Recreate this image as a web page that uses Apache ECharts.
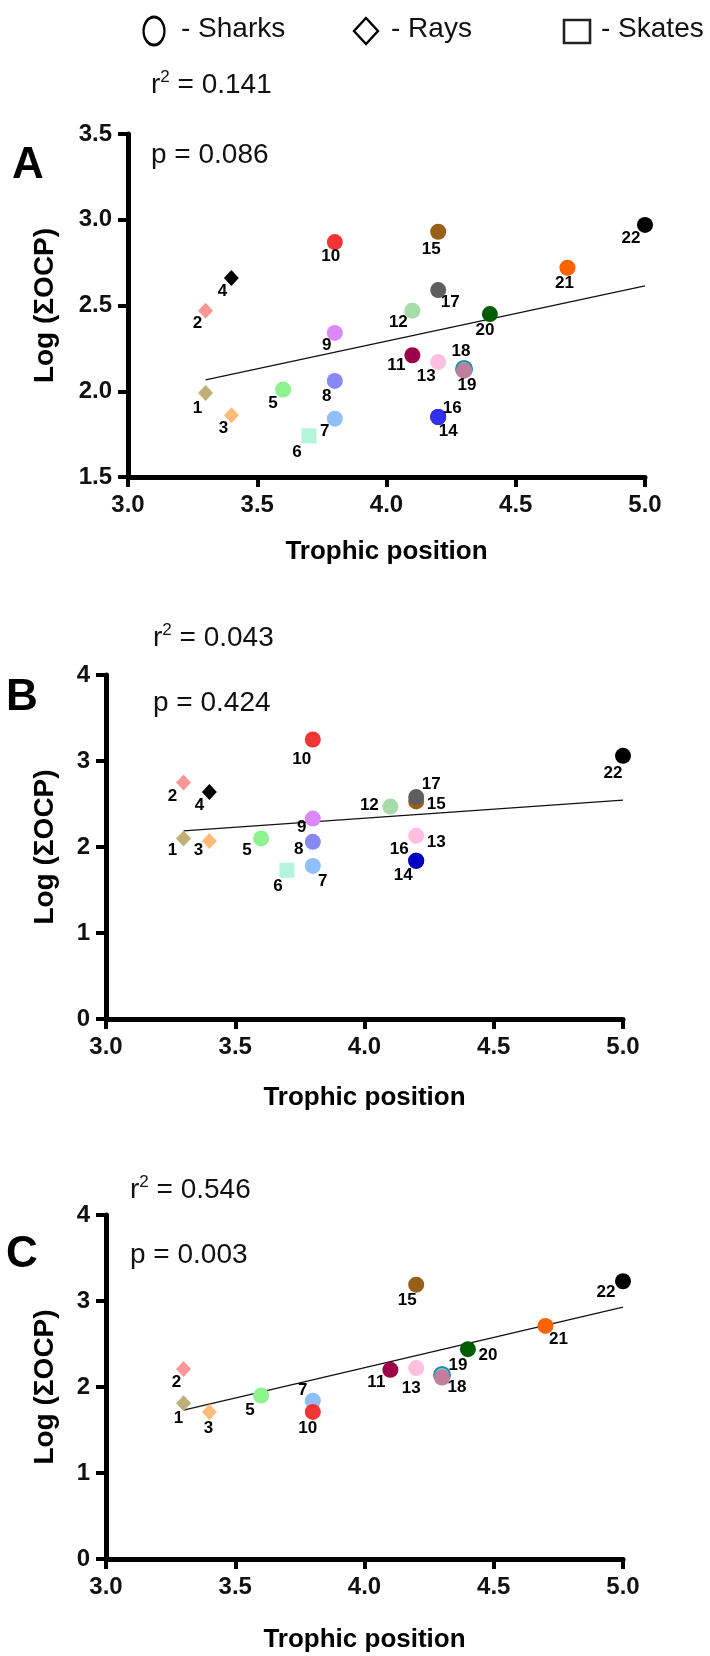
<!DOCTYPE html>
<html><head><meta charset="utf-8">
<script src="https://cdn.jsdelivr.net/npm/echarts@6/dist/echarts.min.js"></script>
<style>html,body{margin:0;padding:0;background:#fff}#c{width:710px;height:1656px}</style>
</head><body><div id="c"></div>
<script>
// ---------- DATA ----------
const xTicks = [3.0, 3.5, 4.0, 4.5, 5.0];
const rays = [1, 2, 3, 4];
const skates = [6];

// Panel A
const aIds = [1,2,3,4,5,6,7,8,9,10,11,12,13,14,15,16,17,18,19,20,21,22];
const aTP  = [3.3,3.3,3.4,3.4,3.6,3.7,3.8,3.8,3.8,3.8,4.1,4.1,4.2,4.2,4.2,4.2,4.2,4.3,4.3,4.4,4.7,5.0];
const aLog = [1.99,2.47,1.86,2.66,2.01,1.74,1.84,2.06,2.34,2.87,2.21,2.47,2.17,1.85,2.93,1.85,2.59,2.13,2.12,2.45,2.72,2.97];
const aFitX = [3.3, 5.0];
const aFitY = [2.066, 2.614];
const aStats = ['0.141', '0.086'];

// Panel B
const bIds = [1,2,3,4,5,6,7,8,9,10,12,13,16,14,15,17,22];
const bTP  = [3.3,3.3,3.4,3.4,3.6,3.7,3.8,3.8,3.8,3.8,4.1,4.2,4.2,4.2,4.2,4.2,5.0];
const bLog = [2.10,2.75,2.07,2.64,2.10,1.73,1.78,2.06,2.33,3.25,2.47,2.13,1.84,1.84,2.53,2.58,3.06];
const bFitX = [3.3, 5.0];
const bFitY = [2.187, 2.545];
const bStats = ['0.043', '0.424'];

// Panel C
const cIds = [1,2,3,5,7,10,11,13,15,18,19,20,21,22];
const cTP  = [3.3,3.3,3.4,3.6,3.8,3.8,4.1,4.2,4.2,4.3,4.3,4.4,4.7,5.0];
const cLog = [1.81,2.21,1.71,1.90,1.84,1.71,2.20,2.22,3.19,2.14,2.11,2.44,2.71,3.23];
const cFitX = [3.3, 5.0];
const cFitY = [1.73, 2.93];
const cStats = ['0.546', '0.003'];

// ---------- STYLE ----------
const colors = {1:'#beb078',2:'#ff9696',3:'#ffbb78',4:'#000000',5:'#8ef28e',6:'#b2f4dc',7:'#8ebff7',8:'#8888f7',
  9:'#dd88f7',10:'#f23434',11:'#9c0048',12:'#a6dca8',13:'#ffbfe0',14:'#0000c4',15:'#966019',16:'#3030ee',
  17:'#5e5e5e',18:'#8cc2cf',19:'#c17d9c',20:'#005c00',21:'#ff6200',22:'#000000'};
const offA = {1:[-8,15],2:[-8,13],3:[-8,13],4:[-9,13],5:[-10,14],6:[-12,16],7:[-10,13],8:[-8,15],9:[-8,12],10:[-4,14],
  11:[-16,10],12:[-14,12],13:[-12,14],14:[10,14],15:[-7,18],16:[14,-9],17:[12,12],18:[-2,-17],19:[3,15],20:[-5,16],21:[-3,16],22:[-14,13]};
const offB = {1:[-11,12],2:[-11,14],3:[-11,9],4:[-10,13],5:[-14,12],6:[-9,16],7:[10,15],8:[-14,7],9:[-11,9],10:[-11,20],
  12:[-21,-1],13:[20,6],14:[-13,15],15:[20,3],16:[-17,-11],17:[15,-13],22:[-10,17]};
const offC = {1:[-5,15],2:[-7,13],3:[-1,16],5:[-11,15],7:[-10,-10],10:[-5,16],11:[-14,13],13:[-5,20],15:[-9,16],
  18:[16,13],19:[16,-12],20:[20,6],21:[13,13],22:[-17,11]};

const FONT = "'Liberation Sans', Arial, Helvetica, sans-serif";
const grids = [
  {left:128, top:134, width:517, height:343},
  {left:106, top:675, width:517, height:344},
  {left:106, top:1215, width:517, height:344}
];

function symbolFor(id){ return rays.includes(id) ? 'diamond' : (skates.includes(id) ? 'rect' : 'circle'); }

function pts(ids, xs, ys, off){
  return ids.map((id,i)=>{
    const sym = symbolFor(id);
    const w = sym==='circle' ? 16 : 15, h = sym==='diamond' ? 16 : w;
    const o = off[id] || [0,14];
    const item = {
      value:[xs[i], ys[i]],
      symbol: sym,
      symbolSize: [w, h],
      itemStyle:{color: colors[id], opacity:1},
      label:{show:true, position:[w/2 + o[0], h/2 + o[1]], align:'center', verticalAlign:'middle',
        formatter:String(id), color:'#000', fontFamily:FONT, fontWeight:'bold', fontSize:17}
    };
    if (id===18) item.itemStyle = {color: colors[id], opacity:1, borderColor:'#1f8fa6', borderWidth:2};
    return item;
  });
}

const xAxisBase = (gi)=>({
  gridIndex:gi, type:'value', min:3, max:5, interval:0.5,
  name:'Trophic position', nameLocation:'middle', nameGap:[62,66,68][gi],
  nameTextStyle:{fontFamily:FONT, fontWeight:'bold', fontSize:26, color:'#000'},
  axisLine:{show:true, onZero:false, lineStyle:{color:'#000', width:5}},
  axisTick:{show:true, length:10, lineStyle:{color:'#000', width:4}},
  axisLabel:{fontFamily:FONT, fontWeight:'bold', fontSize:24, color:'#111', margin:16,
    formatter:(v)=>v.toFixed(1)},
  splitLine:{show:false}
});
const yAxisBase = (gi, min, max, interval, dec)=>({
  gridIndex:gi, type:'value', min:min, max:max, interval:interval,
  name:'Log (ΣOCP)', nameLocation:'middle', nameGap:[69,47,47][gi], nameRotate:90,
  nameTextStyle:{fontFamily:FONT, fontWeight:'bold', fontSize:28, color:'#000'},
  axisLine:{show:true, onZero:false, lineStyle:{color:'#000', width:5}},
  axisTick:{show:true, length:10, lineStyle:{color:'#000', width:4}},
  axisLabel:{fontFamily:FONT, fontWeight:'bold', fontSize:24, color:'#111', margin:16,
    formatter:(v)=>v.toFixed(dec)},
  splitLine:{show:false}
});

function fitLine(gi, fx, fy){
  return {type:'line', xAxisIndex:gi, yAxisIndex:gi, data: fx.map((x,i)=>[x, fy[i]]),
    symbol:'none', lineStyle:{color:'#111', width:1.3}, z:1, silent:true};
}
function scat(gi, ids, xs, ys, off){
  return {type:'scatter', xAxisIndex:gi, yAxisIndex:gi, data: pts(ids, xs, ys, off), z:3,
    itemStyle:{opacity:1}, labelLayout:{hideOverlap:false}};
}

function statText(x, y, label, val){
  if (label==='r') {
    return {type:'text', x:x, y:y, z:10, style:{
      text:'{a|r}{s|2}{a| = ' + val + '}', align:'left', verticalAlign:'middle', textAlign:'left', textVerticalAlign:'middle',
      rich:{a:{fontFamily:FONT, fontSize:28, fill:'#111', color:'#111', lineHeight:34, verticalAlign:'bottom'},
            s:{fontFamily:FONT, fontSize:17, fill:'#111', color:'#111', lineHeight:34, verticalAlign:'top', padding:[4,0,0,0]}}}};
  }
  return {type:'text', x:x, y:y, z:10, style:{text:'p = ' + val, font:'28px ' + FONT, fill:'#111',
    align:'left', verticalAlign:'middle', textAlign:'left', textVerticalAlign:'middle'}};
}
function bigText(x, y, t){
  return {type:'text', x:x, y:y, z:10, style:{text:t, font:'bold 44px ' + FONT, fill:'#000',
    align:'center', verticalAlign:'middle', textAlign:'center', textVerticalAlign:'middle'}};
}
function legText(x, y, t){
  return {type:'text', x:x, y:y, z:10, style:{text:t, font:'28px ' + FONT, fill:'#111',
    align:'left', verticalAlign:'middle', textAlign:'left', textVerticalAlign:'middle'}};
}

const graphic = [
  {type:'circle', x:154, y:31, scaleY:1.33, shape:{cx:0, cy:0, r:10.5}, style:{fill:'none', stroke:'#000', lineWidth:2.2}},
  legText(181, 29, '- Sharks'),
  {type:'polygon', shape:{points:[[366,18],[378,31],[366,44],[354,31]]}, style:{fill:'none', stroke:'#000', lineWidth:2.4}},
  legText(391, 29, '- Rays'),
  {type:'rect', shape:{x:564, y:20, width:26, height:23}, style:{fill:'none', stroke:'#222', lineWidth:2.6}},
  legText(601, 29, '- Skates'),
  statText(151, 82, 'r', aStats[0]), statText(151, 155, 'p', aStats[1]), bigText(28, 166, 'A'),
  statText(153, 635, 'r', bStats[0]), statText(153, 703, 'p', bStats[1]), bigText(22, 698, 'B'),
  statText(130, 1187, 'r', cStats[0]), statText(130, 1255, 'p', cStats[1]), bigText(22, 1255, 'C')
];

const option = {
  animation:false,
  backgroundColor:'#fff',
  grid: grids,
  xAxis:[xAxisBase(0), xAxisBase(1), xAxisBase(2)],
  yAxis:[yAxisBase(0,1.5,3.5,0.5,1), yAxisBase(1,0,4,1,0), yAxisBase(2,0,4,1,0)],
  series:[
    fitLine(0, aFitX, aFitY), scat(0, aIds, aTP, aLog, offA),
    fitLine(1, bFitX, bFitY), scat(1, bIds, bTP, bLog, offB),
    fitLine(2, cFitX, cFitY), scat(2, cIds, cTP, cLog, offC)
  ],
  graphic: graphic
};
const chart = echarts.init(document.getElementById('c'), null, {renderer:'canvas'});
chart.setOption(option);
</script></body></html>
